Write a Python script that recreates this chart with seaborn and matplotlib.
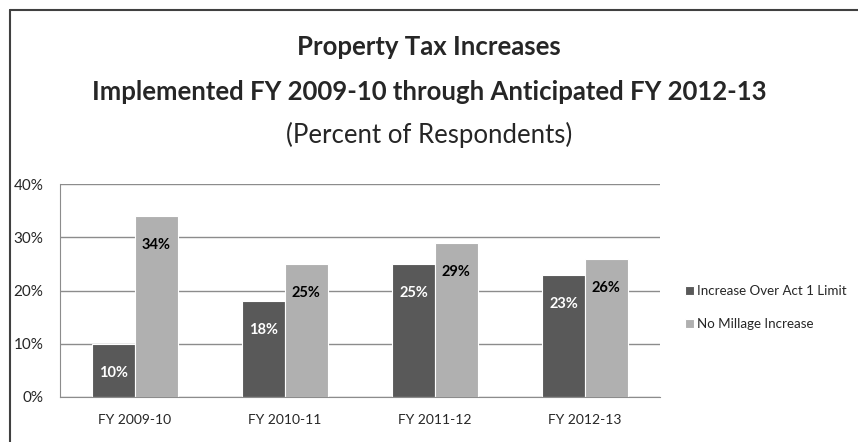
import pandas as pd
import matplotlib.pyplot as plt
import seaborn as sns
from matplotlib.lines import Line2D
from matplotlib.ticker import PercentFormatter

# Values
years = ['FY 2009-10', 'FY 2010-11', 'FY 2011-12', 'FY 2012-13']
over_act1 = [10, 18, 25, 23]
no_millage = [34, 25, 29, 26]
series = ['Increase Over Act 1 Limit', 'No Millage Increase']

data = pd.DataFrame({
    'year': years * 2,
    'pct': over_act1 + no_millage,
    'series': [series[0]] * 4 + [series[1]] * 4,
})

sns.set_style('white')
plt.rcParams['font.family'] = ['Lato', 'DejaVu Sans']

fig = plt.figure(figsize=(8.58, 4.42), dpi=100)
ax = fig.add_axes([60 / 858, 1 - 397 / 442, 600 / 858, 213 / 442])

ax.grid(axis='y', color='#8c8c8c', linewidth=1)
ax.set_axisbelow(True)
sns.barplot(data=data, x='year', y='pct', hue='series',
            palette=['#595959', '#b0b0b0'], width=0.57, saturation=1,
            edgecolor='white', linewidth=0.8, ax=ax)

ax.set_ylim(0, 40)
ax.set_yticks([0, 10, 20, 30, 40])
ax.yaxis.set_major_formatter(PercentFormatter(decimals=0))
ax.set_xlabel('')
ax.set_ylabel('')
ax.tick_params(axis='y', labelsize=11, pad=12, length=0)
ax.tick_params(axis='x', labelsize=10, pad=12, length=0)
for side in ['top', 'right']:
    ax.spines[side].set_visible(False)
ax.spines['left'].set_color('#8c8c8c')
ax.spines['bottom'].set_color('#8c8c8c')

# value labels inside the bars
for cont, col in zip(ax.containers, ['white', 'black']):
    ax.bar_label(cont, labels=[f'{v:.0f}%' for v in cont.datavalues],
                 padding=-26, color=col, fontsize=10.5, fontweight='bold')

ax.legend(loc='center left', bbox_to_anchor=(1.03, 0.42), frameon=False,
          fontsize=9.6, handlelength=0.7, handleheight=0.7,
          handletextpad=0.2, labelspacing=1.6, borderpad=0)

fig.text(0.5, 1 - 47 / 442, 'Property Tax Increases', ha='center', va='center',
         fontsize=18.5, fontweight='bold')
fig.text(0.5, 1 - 92 / 442, 'Implemented FY 2009-10 through Anticipated FY 2012-13',
         ha='center', va='center', fontsize=18.5, fontweight='bold')
fig.text(0.5, 1 - 135 / 442, '(Percent of Respondents)', ha='center', va='center',
         fontsize=18.5)

# frame lines of the original image
fig.add_artist(Line2D([9.5 / 858, 1], [1 - 10 / 442, 1 - 10 / 442],
                      color='#404040', linewidth=1.5))
fig.add_artist(Line2D([9.5 / 858, 9.5 / 858], [0, 1 - 10 / 442],
                      color='#404040', linewidth=1.5))

fig.savefig('out.png', dpi=100)
